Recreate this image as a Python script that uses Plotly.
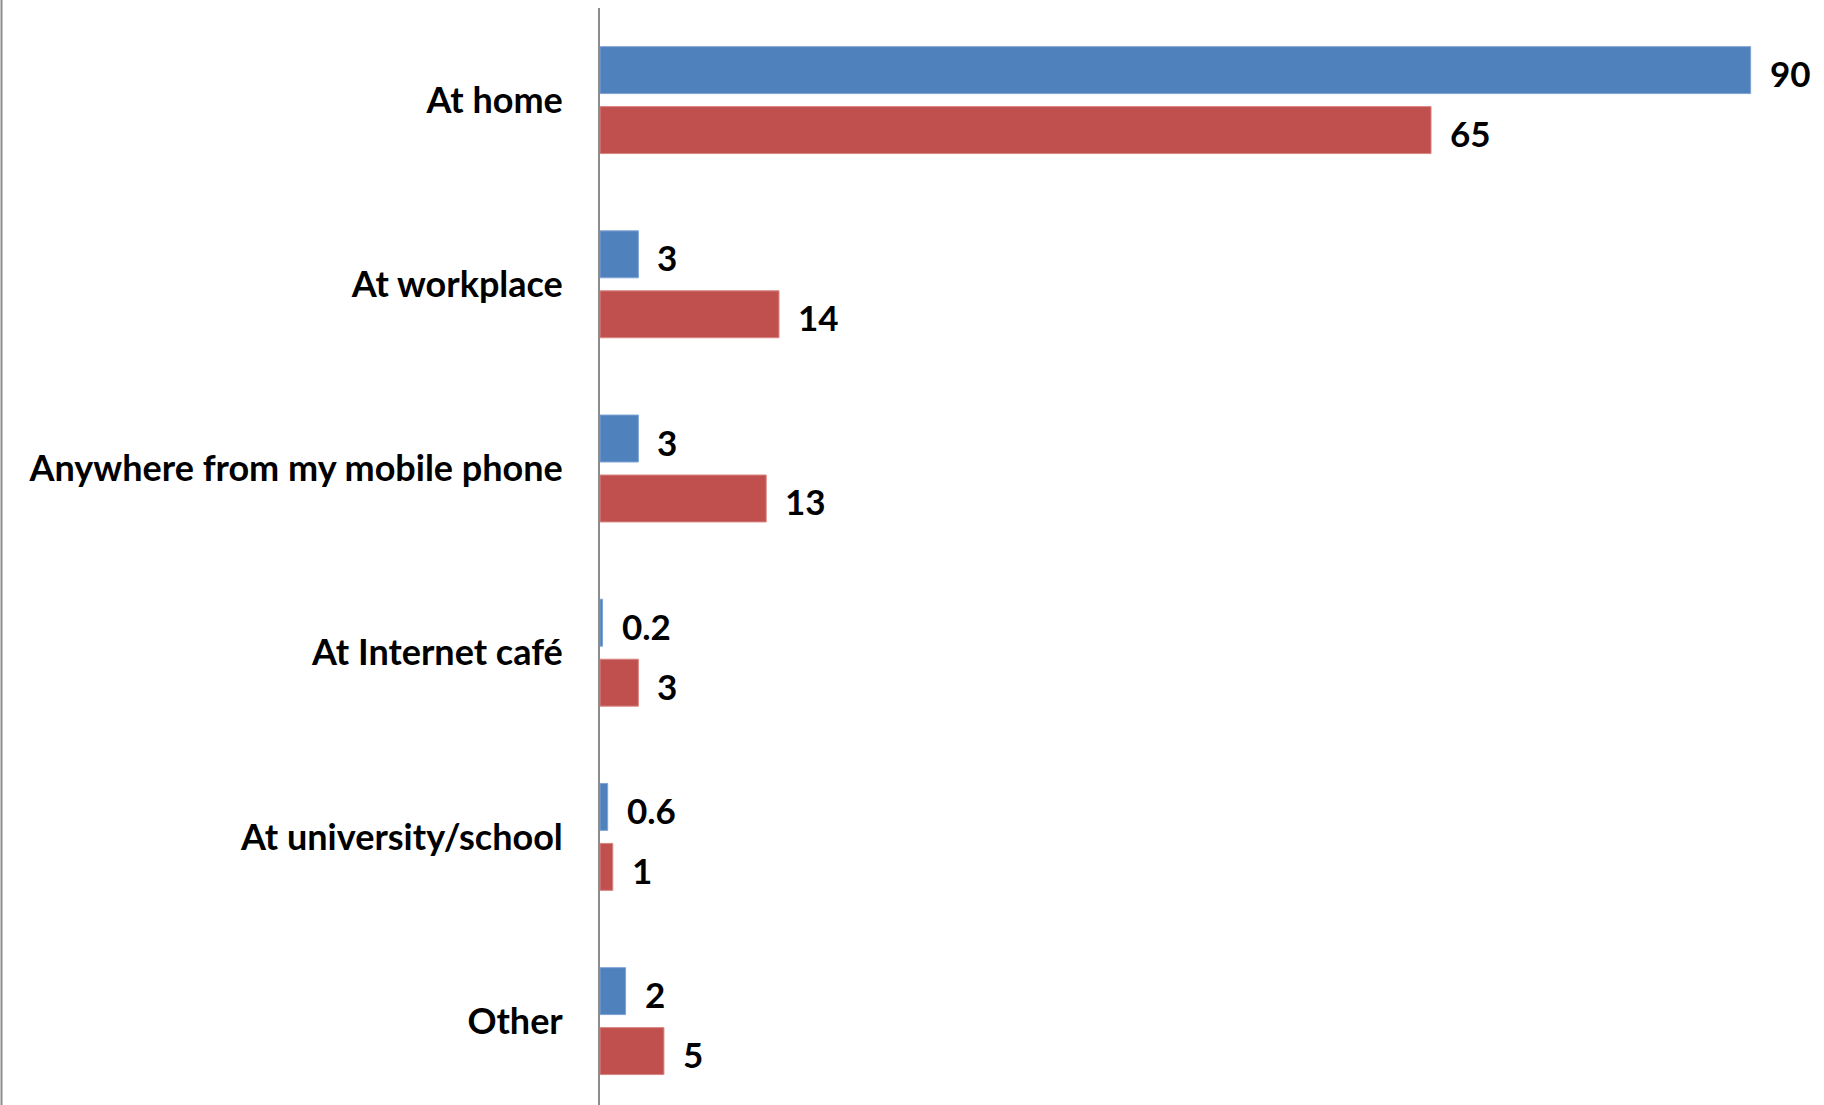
import plotly.graph_objects as go

# Where people access the internet (percent)
categories = [
    "At home",
    "At workplace",
    "Anywhere from my mobile phone",
    "At Internet café",
    "At university/school",
    "Other",
]
series_blue = [90, 3, 3, 0.2, 0.6, 2]
series_red = [65, 14, 13, 3, 1, 5]
blue_labels = ["90", "3", "3", "0.2", "0.6", "2"]
red_labels = ["65", "14", "13", "3", "1", "5"]

BLUE = "#4F81BD"
RED = "#C0504D"
FONT = "Lato, 'Open Sans', sans-serif"

W, H = 1824, 1105
ML, MR, MT, MB = 600, 0, 8, 0
PX_PER_UNIT = 12.785
PITCH = 184.2
BARGAP = 0.349
BARGROUPGAP = 0.217

fig = go.Figure()
fig.add_trace(go.Bar(
    y=categories, x=series_blue, orientation="h",
    marker=dict(color=BLUE, line=dict(color="#7FA3D3", width=1)),
    hoverinfo="skip", showlegend=False,
))
fig.add_trace(go.Bar(
    y=categories, x=series_red, orientation="h",
    marker=dict(color=RED, line=dict(color="#D98683", width=1)),
    hoverinfo="skip", showlegend=False,
))

# value labels placed just beyond the end of each bar
plot_h = H - MT - MB
units = plot_h / PITCH
slot = (1 - BARGAP) / 2
for i, cat in enumerate(categories):
    for k, (vals, labs) in enumerate(((series_blue, blue_labels), (series_red, red_labels))):
        yc = i + (k - 0.5) * slot
        fig.add_annotation(
            x=vals[i], y=yc, xref="x", yref="y",
            text=f"<b>{labs[i]}</b>", showarrow=False,
            xanchor="left", yanchor="middle", xshift=17, yshift=-3,
            font=dict(family=FONT, size=35, color="#000000"),
        )

plot_w = W - ML - MR
fig.update_layout(
    width=W, height=H,
    margin=dict(l=ML, r=MR, t=MT, b=MB, pad=0),
    paper_bgcolor="white", plot_bgcolor="white",
    barmode="group", bargap=BARGAP, bargroupgap=BARGROUPGAP,
    xaxis=dict(
        range=[0, plot_w / PX_PER_UNIT], visible=False, fixedrange=True,
    ),
    yaxis=dict(
        type="category", categoryorder="array", categoryarray=categories,
        range=[-0.5 + units, -0.5],
        showline=True, linecolor="#8C8C8C", linewidth=2,
        showgrid=False, zeroline=False, ticks="",
        ticklabelstandoff=28,
        tickfont=dict(family=FONT, size=36, color="#000000", weight="bold"),
        fixedrange=True,
    ),
    shapes=[dict(
        type="line", xref="paper", yref="paper",
        x0=(1.5 - ML) / plot_w, x1=(1.5 - ML) / plot_w,
        y0=-MB / plot_h, y1=1 + MT / plot_h,
        line=dict(color="#8C8C8C", width=2),
    )],
)

fig.write_html("out.html")
